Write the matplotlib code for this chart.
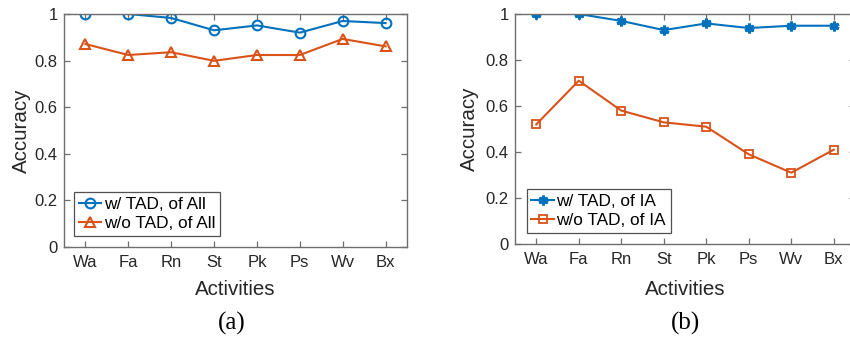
import matplotlib
matplotlib.use("Agg")
import matplotlib.pyplot as plt
import numpy as np

activities = ["Wa", "Fa", "Rn", "St", "Pk", "Ps", "Wv", "Bx"]
a_with_tad = [1.0, 1.0, 0.983, 0.93, 0.951, 0.92, 0.97, 0.961]
a_without_tad = [0.871, 0.824, 0.836, 0.799, 0.824, 0.824, 0.893, 0.861]
b_with_tad = [1.0, 1.0, 0.97, 0.93, 0.959, 0.939, 0.949, 0.949]
b_without_tad = [0.52, 0.71, 0.58, 0.529, 0.51, 0.39, 0.31, 0.41]
yticks = [0, 0.2, 0.4, 0.6, 0.8, 1]
ytick_labels = ["0", "0.2", "0.4", "0.6", "0.8", "1"]

BLUE = "#0072BD"
ORANGE = "#D95319"
AXC = "#6e6e6e"
TXT = "#262626"

plt.rcParams['font.family'] = ['Liberation Sans', 'DejaVu Sans']

fig = plt.figure(figsize=(8.5, 3.41), dpi=100)
W, H = 850, 341

def make_ax(left, top, right, bottom):
    return fig.add_axes([left / W, 1 - bottom / H, (right - left) / W, (bottom - top) / H])

ax1 = make_ax(64, 14, 407, 247)
ax2 = make_ax(515, 14, 855, 244)

x = np.arange(1, len(activities) + 1)

def style(ax, xl_y, yl_x):
    ax.set_xlim(0.5, 8.5)
    ax.set_ylim(0, 1)
    ax.set_xticks(x)
    ax.set_xticklabels(activities)
    ax.set_yticks(yticks)
    ax.set_yticklabels(ytick_labels)
    ax.tick_params(direction='in', length=4, width=0.9, color=AXC, labelcolor=TXT,
                   labelsize=12, top=True, right=True)
    ax.tick_params(axis='x', pad=6)
    ax.tick_params(axis='y', pad=4.5)
    for s in ax.spines.values():
        s.set_color(AXC)
        s.set_linewidth(1.0)
    ax.set_xlabel("Activities", fontsize=14.8, color=TXT, va='center')
    ax.set_ylabel("Accuracy", fontsize=14.8, color=TXT, va='center')
    ax.xaxis.set_label_coords(0.5, xl_y)
    ax.yaxis.set_label_coords(yl_x, 0.5)

ax1.plot(x, a_with_tad, color=BLUE, lw=1.5, marker='o', ms=7, mfc='none', mew=1.5,
         label="w/ TAD, of All")
ax1.plot(x, a_without_tad, color=ORANGE, lw=1.5, marker='^', ms=7.5, mfc='none', mew=1.5,
         label="w/o TAD, of All")
style(ax1, -0.182, -0.124)

ax2.plot(x, b_with_tad, color=BLUE, lw=1.5, marker=(6, 2, 0), ms=7, mew=2.2,
         label="w/ TAD, of IA")
ax2.plot(x, b_without_tad, color=ORANGE, lw=1.5, marker='s', ms=5.5, mfc='none', mew=1.3,
         label="w/o TAD, of IA")
style(ax2, -0.198, -0.135)

for ax, anchor in ((ax1, (0.029, 0.048)), (ax2, (0.034, 0.049))):
    leg = ax.legend(loc='lower left', bbox_to_anchor=anchor, fontsize=12.4, frameon=True,
                    fancybox=False, edgecolor=TXT, handlelength=1.3, handletextpad=0.15,
                    borderpad=0.28, labelspacing=0.25, borderaxespad=0)
    leg.get_frame().set_linewidth(0.9)
    for t in leg.get_texts():
        t.set_color('black')

fig.text(232 / W, 1 - 323 / H, "(a)", family=['Liberation Serif', 'DejaVu Serif'],
         fontsize=18, ha='center', va='center')
fig.text(686 / W, 1 - 323 / H, "(b)", family=['Liberation Serif', 'DejaVu Serif'],
         fontsize=18, ha='center', va='center')

fig.savefig("out.png", dpi=100)
